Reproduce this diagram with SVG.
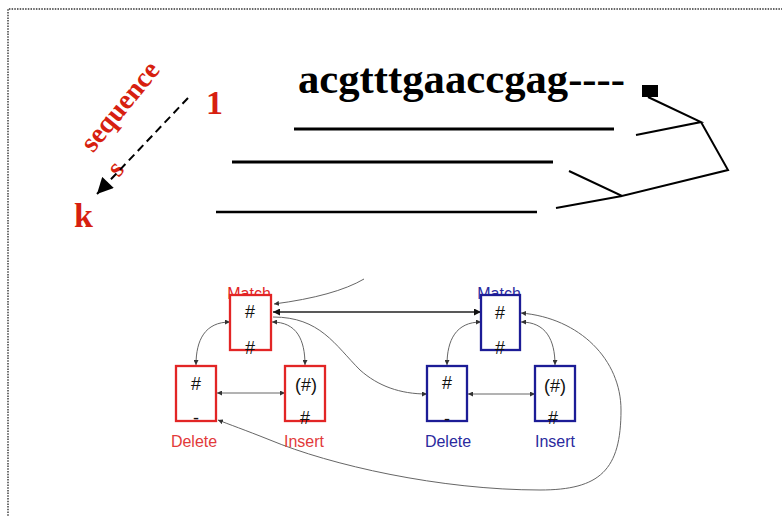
<svg xmlns="http://www.w3.org/2000/svg" width="782" height="517" viewBox="0 0 782 517">
<style>
.seq{font-family:"Liberation Serif","Times New Roman",serif;font-weight:bold;}
.red{fill:#d71f10;}
.lbl{font-family:"Liberation Sans",Arial,sans-serif;font-size:16px;}
.sym{font-family:"Liberation Sans",Arial,sans-serif;font-size:18px;fill:#111;text-anchor:middle;}
.rbox{fill:#fff;stroke:#e22525;stroke-width:2.3;}
.bbox{fill:#fff;stroke:#1c1c96;stroke-width:2.3;}
.gc{fill:none;stroke:#666;stroke-width:1;}
.tree{fill:none;stroke:#000;stroke-width:2;}
</style>
<defs>
<marker id="ga" viewBox="0 0 6 6" refX="6" refY="3" markerWidth="5" markerHeight="5" markerUnits="userSpaceOnUse" orient="auto-start-reverse"><path d="M0,0 L6,3 L0,6 z" fill="#333"/></marker>
<marker id="ba" viewBox="0 0 8 8" refX="8" refY="4" markerWidth="8" markerHeight="7" markerUnits="userSpaceOnUse" orient="auto-start-reverse"><path d="M0,0 L8,4 L0,8 z" fill="#111"/></marker>
<marker id="da" viewBox="0 0 10 10" refX="10" refY="5" markerWidth="18" markerHeight="16" markerUnits="userSpaceOnUse" orient="auto"><path d="M0,0 L10,5 L0,10 z" fill="#000"/></marker>
</defs>
<rect width="782" height="517" fill="#fff"/>
<path d="M8,540 L8,9 L790,9" fill="none" stroke="#333" stroke-width="1.4" stroke-dasharray="1.5 1.2"/>

<g id="alignment">
<text class="seq" x="298" y="93" font-size="43" textLength="327" lengthAdjust="spacingAndGlyphs">acgtttgaaccgag----</text>
<rect x="642" y="85" width="16" height="12" fill="#000"/>
<line x1="294" y1="129" x2="614" y2="129" stroke="#000" stroke-width="3"/>
<line x1="232" y1="162" x2="553" y2="162" stroke="#000" stroke-width="3"/>
<line x1="216" y1="212" x2="537" y2="212" stroke="#000" stroke-width="2.4"/>
<path class="tree" d="M648,97 L701,122 L636,135 M701,122 L728,170 L622,196 L569,171 M622,196 L556,208"/>
</g>

<g id="sequence-axis">
<text class="seq red" x="206" y="114" font-size="34">1</text>
<text class="seq red" x="74" y="227" font-size="34">k</text>
<text class="seq red" font-size="28" text-anchor="middle" transform="translate(127,112) rotate(-50.7)">sequence</text>
<text class="seq red" font-size="27" text-anchor="middle" transform="translate(122,174) rotate(-50.7)">s</text>
<line x1="188" y1="98" x2="97" y2="194" stroke="#000" stroke-width="2" stroke-dasharray="8 5" marker-end="url(#da)"/>
</g>

<g id="connectors">
<path class="gc" d="M230,322 C205,322 196,340 196,365" marker-start="url(#ga)" marker-end="url(#ga)"/>
<path class="gc" d="M272,322 C297,322 305,340 305,365" marker-start="url(#ga)" marker-end="url(#ga)"/>
<path class="gc" d="M217,393 L285,393" marker-start="url(#ga)" marker-end="url(#ga)"/>
<path class="gc" d="M364,279 Q335,296 274,304" marker-end="url(#ga)"/>
<path d="M273,312 L481,312" fill="none" stroke="#222" stroke-width="1.6" marker-start="url(#ba)" marker-end="url(#ba)"/>
<path class="gc" d="M273,317 C320,317 335,345 360,370 C378,386 400,394 427,394" marker-end="url(#ga)"/>
<path class="gc" d="M521,313 C580,318 621,360 621,410 C621,470 600,490 540,490 C440,490 330,465 270,440 C245,430 228,424 218,420" marker-start="url(#ga)" marker-end="url(#ga)"/>
<path class="gc" d="M481,322 C456,322 447,340 447,365" marker-start="url(#ga)" marker-end="url(#ga)"/>
<path class="gc" d="M521,322 C546,322 555,340 555,365" marker-start="url(#ga)" marker-end="url(#ga)"/>
<path class="gc" d="M468,394 L535,394" marker-start="url(#ga)" marker-end="url(#ga)"/>
</g>

<g id="red-match">
<text class="lbl" x="249" y="299" text-anchor="middle" fill="#e22525">Match</text>
<rect class="rbox" x="230" y="295" width="41" height="55"/>
<text class="sym" x="250" y="318">#</text>
<text class="sym" x="250" y="354">#</text>
</g>
<g id="red-delete">
<rect class="rbox" x="176" y="366" width="40" height="55"/>
<text class="sym" x="196" y="390">#</text>
<text class="sym" x="196" y="424">-</text>
<text class="lbl" x="194" y="447" text-anchor="middle" fill="#e23a3a">Delete</text>
</g>
<g id="red-insert">
<rect class="rbox" x="285" y="366" width="40" height="55"/>
<text class="sym" x="306" y="391">(#)</text>
<text class="sym" x="305" y="424">#</text>
<text class="lbl" x="304" y="447" text-anchor="middle" fill="#e23a3a">Insert</text>
</g>

<g id="blue-match">
<text class="lbl" x="499" y="299" text-anchor="middle" fill="#2a2a9e">Match</text>
<rect class="bbox" x="481" y="295" width="39" height="55"/>
<text class="sym" x="500" y="319">#</text>
<text class="sym" x="500" y="354">#</text>
</g>
<g id="blue-delete">
<rect class="bbox" x="427" y="366" width="40" height="55"/>
<text class="sym" x="447" y="389">#</text>
<text class="sym" x="447" y="425">-</text>
<text class="lbl" x="448" y="447" text-anchor="middle" fill="#2a2a9e">Delete</text>
</g>
<g id="blue-insert">
<rect class="bbox" x="535" y="366" width="40" height="55"/>
<text class="sym" x="555" y="392">(#)</text>
<text class="sym" x="553" y="424">#</text>
<text class="lbl" x="555" y="447" text-anchor="middle" fill="#2a2a9e">Insert</text>
</g>
</svg>
